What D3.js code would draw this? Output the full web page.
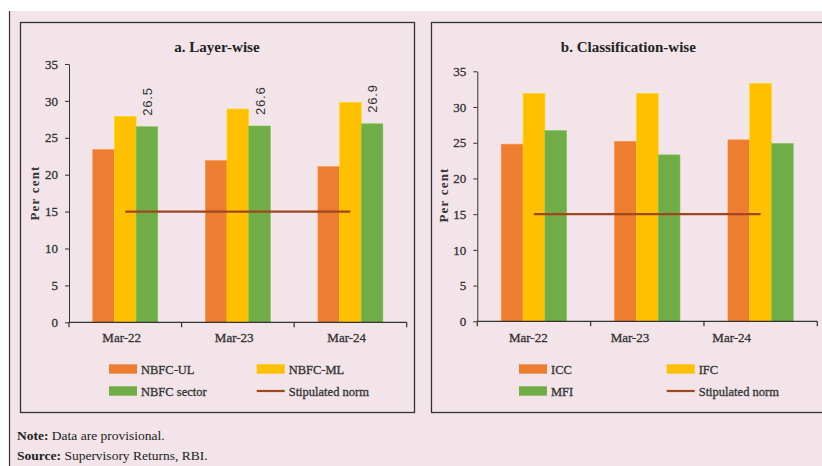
<!DOCTYPE html>
<html><head><meta charset="utf-8">
<script src="https://cdn.jsdelivr.net/npm/d3@7"></script>
<style>body{margin:0;background:#fff}svg{display:block}</style>
</head><body>
<script>
const categories = ["Mar-22", "Mar-23", "Mar-24"];
const layerSeries = ["NBFC-UL", "NBFC-ML", "NBFC sector"];
const layerUL = [23.4, 21.9, 21.1];
const layerML = [27.9, 28.9, 29.8];
const layerSector = [26.5, 26.6, 26.9];
const classSeries = ["ICC", "IFC", "MFI"];
const classICC = [24.8, 25.2, 25.4];
const classIFC = [31.9, 31.9, 33.3];
const classMFI = [26.7, 23.3, 24.9];
const stipulatedNorm = 15;
const normLabel = "Stipulated norm";
const yTicks = [0, 5, 10, 15, 20, 25, 30, 35];
const titles = ["a. Layer-wise", "b. Classification-wise"];

const colors = ["#ED7D31", "#FFC000", "#70AD47"];
const normColor = "#A0471E";
const bg = "#F2E4E9";
const serif = "'Liberation Serif', 'DejaVu Serif', serif";

const W = 822, H = 466;
const svg = d3.select("body").append("svg").attr("width", W).attr("height", H);
svg.append("rect").attr("x", 9).attr("y", 11).attr("width", W - 9).attr("height", H - 11).attr("fill", bg);
svg.append("line").attr("x1", 9.5).attr("x2", 9.5).attr("y1", 11).attr("y2", H).attr("stroke", "#333").attr("stroke-width", 1.2);

const panels = [
  {box: [20.5, 22.5, 394, 390], title: titles[0], titleX: 217, x0: 69, x1: 406.7, yTop: 64, yBot: 322.3,
   series: layerSeries, values: [layerUL, layerML, layerSector], labelIdx: 2, labelRange: [121.7, 346.7],
   perX: 35, perY: 193, legX: [109, 256.7]},
  {box: [431.5, 22.5, 420, 390], title: titles[1], titleX: 628.3, x0: 477.3, x1: 817.3, yTop: 71.3, yBot: 321.3,
   series: classSeries, values: [classICC, classIFC, classMFI], labelIdx: -1, labelRange: [528.3, 731.7],
   perX: 444, perY: 195, legX: [519, 666.7]}
];

function heavy(sel) { return sel.attr("stroke", "#333").attr("stroke-width", 0.3); }

panels.forEach(p => {
  const g = svg.append("g");
  g.append("rect").attr("x", p.box[0]).attr("y", p.box[1]).attr("width", p.box[2]).attr("height", p.box[3])
    .attr("fill", "none").attr("stroke", "#333").attr("stroke-width", 1.3);
  g.append("text").attr("x", p.titleX).attr("y", 52).attr("text-anchor", "middle")
    .attr("font-family", serif).attr("font-weight", "bold").attr("font-size", 15).attr("fill", "#222").text(p.title);

  const x = d3.scaleBand().domain(categories).range([p.x0, p.x1]).padding(0);
  const bw = x.bandwidth();
  const groupW = bw * 0.577;
  const xs = d3.scaleBand().domain(p.series).range([(bw - groupW) / 2, (bw + groupW) / 2]);
  const y = d3.scaleLinear().domain([0, 35]).range([p.yBot, p.yTop]);
  const xl = d3.scalePoint().domain(categories).range(p.labelRange);

  // bars
  p.series.forEach((s, si) => {
    g.selectAll(null).data(p.values[si]).enter().append("rect")
      .attr("x", (d, i) => x(categories[i]) + xs(s))
      .attr("y", d => y(d))
      .attr("width", xs.bandwidth())
      .attr("height", d => y(0) - y(d))
      .attr("fill", colors[si])
      .attr("stroke", d3.color(colors[si]).brighter(0.4)).attr("stroke-width", 0.6);
    if (si === p.labelIdx) {
      g.selectAll(null).data(p.values[si]).enter().append("text")
        .attr("transform", (d, i) => `translate(${x(categories[i]) + xs(s) + xs.bandwidth() / 2 + 5},${y(d) - 11}) rotate(-90)`)
        .attr("font-family", "'Liberation Sans', Arial, sans-serif").attr("font-size", 13)
        .attr("letter-spacing", 0.8).attr("fill", "#333").text(d => d.toFixed(1));
    }
  });

  // norm line
  g.append("line")
    .attr("x1", x(categories[0]) + bw / 2).attr("x2", x(categories[categories.length - 1]) + bw / 2)
    .attr("y1", y(stipulatedNorm)).attr("y2", y(stipulatedNorm))
    .attr("stroke", normColor).attr("stroke-width", 2.2);

  // y axis
  const ya = g.append("g").attr("transform", `translate(${p.x0},0)`)
    .call(d3.axisLeft(y).tickValues(yTicks).tickSize(4).tickPadding(7).tickSizeOuter(0));
  ya.select(".domain").attr("stroke", "#333");
  ya.selectAll(".tick line").attr("stroke", "#333");
  heavy(ya.selectAll("text").attr("font-family", serif).attr("font-size", 13).attr("fill", "#333"));

  // x axis
  g.append("line").attr("x1", p.x0).attr("x2", p.x1).attr("y1", y(0)).attr("y2", y(0)).attr("stroke", "#333").attr("stroke-width", 1.2);
  categories.concat([null]).forEach((c, i) => {
    const tx = c === null ? p.x1 : x(c);
    g.append("line").attr("x1", tx).attr("x2", tx).attr("y1", y(0)).attr("y2", y(0) + 5).attr("stroke", "#333").attr("stroke-width", 1.2);
  });
  heavy(g.selectAll(null).data(categories).enter().append("text")
    .attr("x", d => xl(d)).attr("y", 342).attr("text-anchor", "middle")
    .attr("font-family", serif).attr("font-size", 13).attr("fill", "#333").text(d => d));

  // y title
  g.append("text").attr("transform", `translate(${p.perX + 4},${p.perY}) rotate(-90)`).attr("text-anchor", "middle")
    .attr("font-family", serif).attr("font-weight", "bold").attr("font-size", 13).attr("letter-spacing", 1.2)
    .attr("fill", "#333").text("Per cent");

  // legend
  const items = p.series.map((s, i) => ({name: s, type: "rect", color: colors[i]}))
    .concat([{name: normLabel, type: "line", color: normColor}]);
  items.forEach((it, i) => {
    const lx = p.legX[i % 2], ly = i < 2 ? 369 : 391;
    if (it.type === "rect") {
      g.append("rect").attr("x", lx).attr("y", ly - 4.7).attr("width", 28).attr("height", 9.4).attr("fill", it.color);
    } else {
      g.append("line").attr("x1", lx).attr("x2", lx + 28).attr("y1", ly).attr("y2", ly).attr("stroke", it.color).attr("stroke-width", 2.2);
    }
    heavy(g.append("text").attr("x", lx + 32).attr("y", ly + 4.5).attr("font-family", serif).attr("font-size", 12.5)
      .attr("fill", "#333").text(it.name));
  });
});

// notes
const note = svg.append("text").attr("x", 17).attr("y", 439.5).attr("font-family", serif).attr("font-size", 13.5).attr("fill", "#222");
note.append("tspan").attr("font-weight", "bold").text("Note:");
note.append("tspan").text(" Data are provisional.");
const src = svg.append("text").attr("x", 17).attr("y", 459.5).attr("font-family", serif).attr("font-size", 13.5).attr("fill", "#222");
src.append("tspan").attr("font-weight", "bold").text("Source:");
src.append("tspan").text(" Supervisory Returns, RBI.");
</script>
</body></html>
